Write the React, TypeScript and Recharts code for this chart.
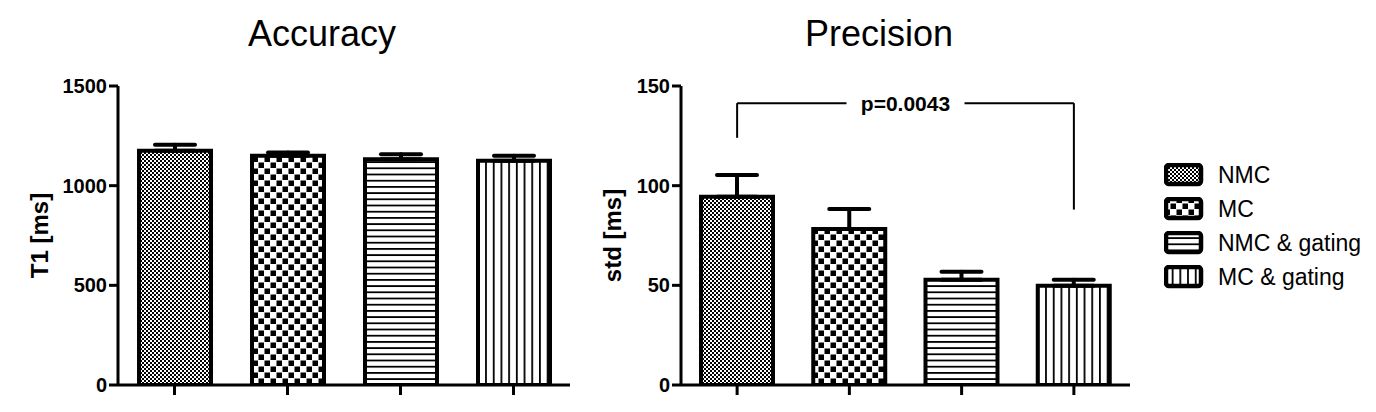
import React from "react";
import { BarChart, Bar, XAxis, YAxis, ErrorBar, ReferenceLine, Cell } from "recharts";

const FONT = '"Liberation Sans", Arial, Helvetica, sans-serif';

const categories = ["NMC", "MC", "NMC & gating", "MC & gating"];
const patternIds = ["pat-nmc", "pat-mc", "pat-nmc-g", "pat-mc-g"];

const accuracyMean = [1175, 1150, 1133, 1125];
const accuracyErr = [30, 17, 25, 25];
const accuracyTicks = [0, 500, 1000, 1500];

const precisionMean = [94.4, 78.3, 52.8, 49.8];
const precisionErr = [11, 10, 4, 3];
const precisionTicks = [0, 50, 100, 150];

// significance bracket (data units)
const bracketTop = 141.4;
const bracketLeftEnd = 124;
const bracketRightEnd = 88;
const pLabel = "p=0.0043";

const toRows = (means: number[], errs: number[]) =>
  categories.map((c, i) => ({ name: c, value: means[i], err: [0, errs[i]] }));

function Patterns() {
  return (
    <svg width="0" height="0" style={{ position: "absolute" }}>
      <defs>
        <pattern id="pat-nmc" width="4" height="4" patternUnits="userSpaceOnUse">
          <rect width="4" height="4" fill="#fff" />
          <rect x="0" y="0" width="2" height="2" fill="#000" />
          <rect x="2" y="2" width="2" height="2" fill="#000" />
        </pattern>
        <pattern id="pat-mc" width="12" height="12" patternUnits="userSpaceOnUse">
          <rect width="12" height="12" fill="#fff" />
          <rect x="0.5" y="0.5" width="5.5" height="5.5" fill="#000" />
          <rect x="6.5" y="6.5" width="5.5" height="5.5" fill="#000" />
        </pattern>
        <pattern id="pat-nmc-g" width="6.2" height="6.2" patternUnits="userSpaceOnUse">
          <rect width="6.2" height="6.2" fill="#fff" />
          <rect x="0" y="0" width="6.2" height="1.8" fill="#000" />
        </pattern>
        <pattern id="pat-mc-g" width="7.7" height="7.7" patternUnits="userSpaceOnUse">
          <rect width="7.7" height="7.7" fill="#fff" />
          <rect x="0" y="0" width="1.8" height="7.7" fill="#000" />
        </pattern>
      </defs>
    </svg>
  );
}

function AxisTitle({ viewBox, text, cx }: any) {
  const cy = viewBox.y + viewBox.height / 2;
  return (
    <text
      x={cx}
      y={cy}
      transform={`rotate(-90, ${cx}, ${cy})`}
      textAnchor="middle"
      dominantBaseline="central"
      fontFamily={FONT}
      fontWeight="bold"
      fontSize={24}
      fill="#000"
    >
      {text}
    </text>
  );
}

function PLabel({ viewBox }: any) {
  const cx = viewBox.x + viewBox.width / 2;
  const cy = viewBox.y;
  return (
    <g>
      <rect x={cx - 59} y={cy - 14} width={118} height={28} fill="#fff" />
      <text
        x={cx}
        y={cy}
        textAnchor="middle"
        dominantBaseline="central"
        fontFamily={FONT}
        fontWeight="bold"
        fontSize={21}
        fill="#000"
      >
        {pLabel}
      </text>
    </g>
  );
}

const tickStyle = { fill: "#000", fontSize: 20, fontWeight: "bold", fontFamily: FONT };
const axisLine = { stroke: "#000", strokeWidth: 3 };

function Panel({
  rows,
  ticks,
  yLabel,
  yWidth,
  labelX,
  bracket,
}: {
  rows: any[];
  ticks: number[];
  yLabel: string;
  yWidth: number;
  labelX: number;
  bracket?: boolean;
}) {
  return (
    <BarChart
      width={600}
      height={412}
      data={rows}
      margin={{ top: 86, right: 30, left: 0, bottom: 7 }}
    >
      <XAxis
        dataKey="name"
        height={20}
        axisLine={axisLine}
        tickLine={{ stroke: "#000", strokeWidth: 3 }}
        tickSize={10}
        tick={() => <g />}
      />
      <YAxis
        width={yWidth}
        domain={[ticks[0], ticks[ticks.length - 1]]}
        ticks={ticks}
        allowDataOverflow
        axisLine={axisLine}
        tickLine={{ stroke: "#000", strokeWidth: 3 }}
        tickSize={9}
        tickMargin={2}
        tick={tickStyle}
        label={(p: any) => <AxisTitle {...p} text={yLabel} cx={labelX} />}
      />
      <Bar
        dataKey="value"
        barSize={72}
        stroke="#000"
        strokeWidth={4}
        isAnimationActive={false}
      >
        {rows.map((r, i) => (
          <Cell key={r.name} fill={`url(#${patternIds[i]})`} />
        ))}
        <ErrorBar
          dataKey="err"
          direction="y"
          width={20}
          stroke="#000"
          strokeWidth={4}
          strokeLinecap="round"
          isAnimationActive={false}
        />
      </Bar>
      {bracket && (
        <ReferenceLine
          segment={[
            { x: categories[0], y: bracketLeftEnd },
            { x: categories[0], y: bracketTop },
          ]}
          stroke="#000"
          strokeWidth={2}
        />
      )}
      {bracket && (
        <ReferenceLine
          segment={[
            { x: categories[3], y: bracketRightEnd },
            { x: categories[3], y: bracketTop },
          ]}
          stroke="#000"
          strokeWidth={2}
        />
      )}
      {bracket && (
        <ReferenceLine
          segment={[
            { x: categories[0], y: bracketTop },
            { x: categories[3], y: bracketTop },
          ]}
          stroke="#000"
          strokeWidth={2}
          label={(p: any) => <PLabel {...p} />}
        />
      )}
    </BarChart>
  );
}

function LegendBox() {
  return (
    <div style={{ position: "absolute", left: 1164, top: 158 }}>
      {categories.map((c, i) => (
        <div key={c} style={{ display: "flex", alignItems: "center", height: 34 }}>
          <svg width={40} height={24}>
            <rect
              x={2}
              y={2}
              width={35}
              height={19}
              rx={3}
              fill={`url(#${patternIds[i]})`}
              stroke="#000"
              strokeWidth={4.5}
            />
          </svg>
          <span style={{ fontFamily: FONT, fontSize: 23, marginLeft: 14, color: "#000" }}>{c}</span>
        </div>
      ))}
    </div>
  );
}

const titleStyle: React.CSSProperties = {
  position: "absolute",
  top: 14,
  width: 300,
  textAlign: "center",
  fontFamily: FONT,
  fontSize: 36,
  lineHeight: "40px",
  color: "#000",
};

export default function App() {
  return (
    <div style={{ position: "absolute", left: 0, top: 0, width: 1376, height: 412, background: "#fff", overflow: "hidden" }}>
      <Patterns />
      <div style={{ ...titleStyle, left: 322 - 150 }}>Accuracy</div>
      <div style={{ ...titleStyle, left: 879 - 150 }}>Precision</div>
      <div style={{ position: "absolute", left: 0, top: 0 }}>
        <Panel rows={toRows(accuracyMean, accuracyErr)} ticks={accuracyTicks} yLabel="T1 [ms]" yWidth={118} labelX={39} />
      </div>
      <div style={{ position: "absolute", left: 560, top: 0 }}>
        <Panel
          rows={toRows(precisionMean, precisionErr)}
          ticks={precisionTicks}
          yLabel="std [ms]"
          yWidth={121}
          labelX={52}
          bracket
        />
      </div>
      <LegendBox />
    </div>
  );
}
